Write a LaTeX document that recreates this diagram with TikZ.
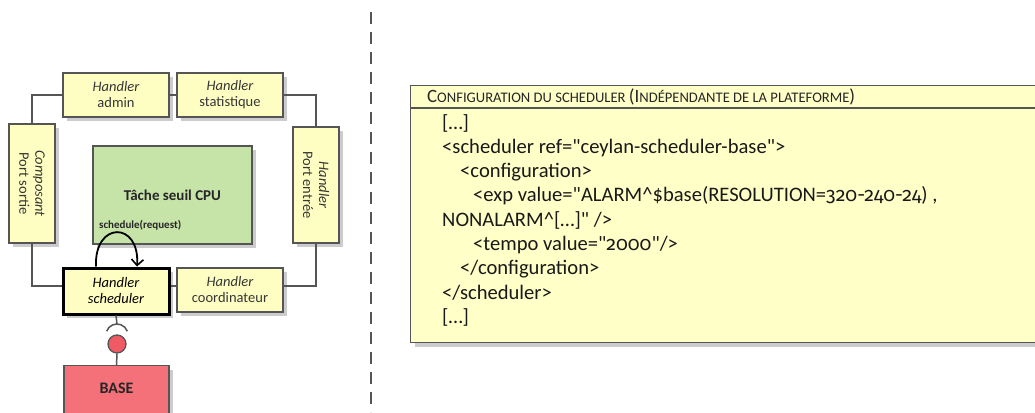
\documentclass[tikz,border=0pt]{standalone}
\usepackage{fontspec}
\setmainfont{Carlito}
\newfontfamily\cf{Carlito}
\newfontfamily\osf{Fira Sans}[Numbers=OldStyle]
\usetikzlibrary{shadows,arrows.meta}
\definecolor{hy}{HTML}{FEFEC2}
\definecolor{cy}{HTML}{FFFFC8}
\definecolor{hg}{HTML}{C6E3A8}
\definecolor{hr}{HTML}{F4717A}
\definecolor{cr}{HTML}{F05A64}
\definecolor{edge}{HTML}{555555}
\definecolor{txt}{HTML}{363636}
\newcommand{\bigsc}[1]{{\fontsize{18.8}{20}\selectfont #1}}
\newcommand{\smsc}[1]{{\fontsize{14.6}{20}\selectfont #1}}
\newcommand{\od}[1]{{\osf\fontsize{19.5}{24}\selectfont #1}}
\begin{document}
\begin{tikzpicture}[x=1pt,y=-1pt,
  shad/.style={drop shadow={shadow xshift=4pt,shadow yshift=-4pt,fill=black!20,opacity=1}},
  hbox/.style={shad,draw=edge,fill=hy,line width=1.3pt,minimum width=106pt,minimum height=44pt,
    inner sep=0pt,align=center,font=\fontsize{14.5}{16}\selectfont,text=txt},
  vbox/.style={hbox,rotate=-90,minimum height=46pt},
  conn/.style={draw=edge,line width=1.5pt},
  cfgbox/.style={shad,draw=edge,fill=cy,line width=1.3pt,minimum width=640pt,minimum height=257pt,inner sep=0pt}
]
\useasboundingbox (0,0) rectangle (1035,412);

% left part
\node[hbox] (admin) at (116,95) {\textit{Handler}\\admin};
\node[hbox] (stat) at (230,95) {\textit{Handler}\\statistique};
\node[vbox,minimum width=119pt] (compo) at (32,183.5) {\textit{Composant}\\Port sortie};
\node[vbox,minimum width=116pt] (pentree) at (316,185) {\textit{Handler}\\Port entrée};
\node[shad,draw=edge,fill=hg,line width=1.3pt,minimum width=159pt,minimum height=98pt,
  font=\bfseries\fontsize{15}{17}\selectfont,text=black!85] (task) at (172.5,195) {Tâche seuil CPU};
\node[anchor=west,inner sep=0pt,font=\bfseries\fontsize{11}{12}\selectfont,text=black!85] (req) at (99,225) {schedule(request)};
\node[hbox,draw=black,line width=3pt,minimum height=46pt,text=black,font=\itshape\fontsize{14.5}{16}\selectfont] (sched) at (116,291) {Handler\\scheduler};
\node[hbox] (coord) at (230,290) {\textit{Handler}\\coordinateur};
\node[shad,draw=edge,fill=hr,line width=1.3pt,minimum width=105pt,anchor=north,inner ysep=0pt,
  text height=28pt,text depth=32pt,font=\bfseries\fontsize{16}{18}\selectfont,text=black!85] (base) at (116.5,365) {BASE};

% connectors
\draw[conn] (admin.west) -| (compo.west);
\draw[conn] (admin.east) -- (stat.west);
\draw[conn] (stat.east) -| (pentree.west);
\draw[conn] (compo.east) |- ([yshift=5pt]sched.west);
\draw[conn] ([yshift=5pt]sched.east) -- ([yshift=4pt]coord.west);
\draw[conn] (pentree.east) |- ([yshift=4pt]coord.east);

% self loop
\draw[line width=1.8pt,black,-{Straight Barb[length=6pt,width=12pt,line width=1.6pt]}]
  ([xshift=-20pt]sched.north) .. controls (94,221) and (140,221) .. ([xshift=21pt]sched.north);

% lollipop
\coordinate (sockc) at (117,335);
\coordinate (socktop) at (117,324);
\node[circle,draw=edge,fill=cr,line width=1.3pt,minimum size=18pt,inner sep=0pt] (ball) at (117,344) {};
\draw[conn] (sched.south) -- (socktop);
\draw[conn] ([shift={(160:11pt)}]sockc) arc[start angle=160,end angle=20,radius=11pt];
\draw[conn] (ball.south) -- (base.north);

% separator
\coordinate (dtop) at (371,12);
\coordinate (dbot) at (371,412);
\draw[draw=edge,line width=1.8pt,dash pattern=on 12pt off 8pt] (dtop) -- (dbot);

% configuration box
\node[cfgbox,anchor=north west] (cfg) at (410,85) {};
\draw[conn,line width=1.3pt] ([yshift=-23pt]cfg.north west) -- ([yshift=-23pt]cfg.north east);
\node[anchor=west,inner sep=0pt,text=black!85] (hdr) at (427,97)
  {\bigsc{C}\smsc{ONFIGURATION DU SCHEDULER }\bigsc{(I}\smsc{NDÉPENDANTE DE LA PLATEFORME}\bigsc{)}};
\node[anchor=north west,inner sep=0pt,align=left,text=black!90,font=\cf\fontsize{20.6}{24.3}\selectfont] (code) at (442,114)
  {{[…]}\\
   <scheduler ref="ceylan-scheduler-base">\\
   \hspace*{18pt}<configuration>\\
   \hspace*{31pt}<exp value="ALARM\textasciicircum\$base(RESOLUTION=\od{320-240-24}) ,\\
   NONALARM\textasciicircum[…]" />\\
   \hspace*{31pt}<tempo value="\od{2000}"/>\\
   \hspace*{18pt}</configuration>\\
   </scheduler>\\
   {[…]}};
\end{tikzpicture}
\end{document}
